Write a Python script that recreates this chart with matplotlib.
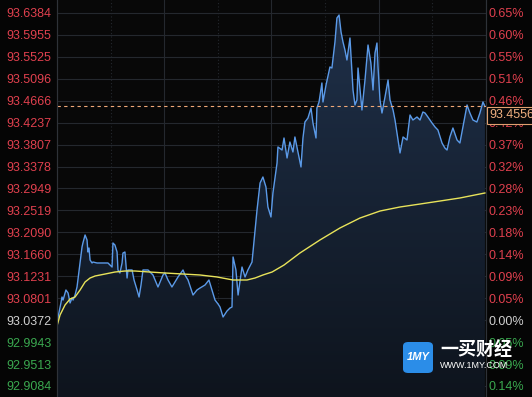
import numpy as np
import matplotlib
matplotlib.use('Agg')
import matplotlib.pyplot as plt
from matplotlib.colors import LinearSegmentedColormap
from matplotlib.patches import FancyBboxPatch

# minutes since open / price
t = [0.0, 0.6, 2.2, 2.8, 3.4, 5.0, 6.2, 7.3, 8.4, 9.0, 10.1, 11.2, 11.7, 12.9, 14.0, 14.5,
     15.7, 16.8, 17.3, 17.9, 18.5, 19.6, 20.1, 22.4, 24.1, 25.7, 28.5, 30.8, 31.3, 32.4,
     33.6, 34.1, 35.2, 36.4, 36.9, 38.0, 39.2, 39.7, 42.0, 43.1, 44.8, 45.9, 47.0, 48.1,
     50.9, 53.7, 56.5, 59.3, 60.4, 62.1, 64.3, 66.0, 67.7, 70.5, 71.6, 73.3, 76.1, 78.3,
     80.0, 82.8, 85.0, 86.7, 88.4, 90.1, 91.2, 92.9, 95.1, 96.8, 97.9, 98.5, 100.1, 101.3,
     103.5, 105.2, 106.8, 109.1, 110.8, 111.9, 113.6, 115.2, 116.9, 118.0, 119.7, 120.8,
     123.1, 123.6, 125.9, 127.0, 128.7, 130.3, 132.0, 133.1, 134.8, 136.5, 137.6, 138.7,
     140.4, 142.1, 143.2, 144.9, 145.4, 146.6, 148.2, 148.8, 150.5, 152.7, 153.8, 155.5,
     156.6, 157.8, 158.9, 160.0, 161.1, 162.2, 163.9, 165.6, 166.7, 167.8, 168.4, 170.6,
     172.3, 174.0, 175.6, 176.8, 177.9, 179.0, 179.6, 180.7, 181.8, 183.5, 185.2, 186.3,
     188.0, 189.1, 190.8, 191.9, 193.6, 195.8, 197.5, 199.1, 201.4, 203.1, 204.7, 205.9,
     207.5, 209.8, 211.5, 213.1, 215.4, 217.0, 218.2, 219.8, 221.5, 223.8, 225.4, 227.1,
     229.4, 231.0, 232.7, 234.9, 236.6, 238.3, 239.4]
price = [93.0258, 93.0434, 93.0708, 93.0825, 93.0766, 93.0962, 93.0903, 93.0708, 93.0806,
         93.0766, 93.0864, 93.1021, 93.1158, 93.1491, 93.1804, 93.1882, 93.2039, 93.1941,
         93.1706, 93.1784, 93.1549, 93.1491, 93.1510, 93.1491, 93.1491, 93.1491, 93.1491,
         93.1412, 93.1882, 93.1843, 93.1706, 93.1354, 93.1295, 93.1491, 93.1686, 93.1706,
         93.1197, 93.1354, 93.1354, 93.1158, 93.0962, 93.0825, 93.1060, 93.1354, 93.1354,
         93.1256, 93.1021, 93.1256, 93.1295, 93.1158, 93.1021, 93.1119, 93.1217, 93.1354,
         93.1256, 93.1158, 93.0864, 93.0962, 93.1001, 93.1060, 93.1158, 93.0962, 93.0766,
         93.0688, 93.0629, 93.0434, 93.0551, 93.0610, 93.0629, 93.1608, 93.1354, 93.0864,
         93.1412, 93.1217, 93.1354, 93.1510, 93.2136, 93.2528, 93.3056, 93.3174, 93.2978,
         93.2587, 93.2391, 93.2861, 93.3448, 93.3761, 93.3702, 93.3937, 93.3546, 93.3859,
         93.3663, 93.3957, 93.3663, 93.3370, 93.3937, 93.4250, 93.4329, 93.4524, 93.4231,
         93.3937, 93.4524, 93.4642, 93.5014, 93.4642, 93.4974, 93.5327, 93.5307, 93.5816,
         93.6286, 93.6344, 93.6012, 93.5816, 93.5659, 93.5464, 93.5894, 93.4877, 93.4583,
         93.4681, 93.5307, 93.4485, 93.5072, 93.5757, 93.5405, 93.4877, 93.5601, 93.5796,
         93.5327, 93.4681, 93.4426, 93.4740, 93.5072, 93.4681, 93.4485, 93.4289, 93.3898,
         93.3644, 93.3957, 93.3898, 93.4387, 93.4289, 93.4348, 93.4289, 93.4446, 93.4426,
         93.4348, 93.4231, 93.4152, 93.4094, 93.3839, 93.3741, 93.3702, 93.3957, 93.4133,
         93.3898, 93.3839, 93.4152, 93.4583, 93.4426, 93.4289, 93.4250, 93.4426, 93.4642,
         93.4556]

# average price line
t_avg = [0.0, 1.7, 4.5, 7.3, 10.1, 12.9, 15.7, 18.5, 21.3, 26.9, 32.4, 38.0, 43.6, 52.0,
         60.4, 70.5, 80.0, 89.5, 98.5, 106.3, 110.8, 115.2, 120.3, 127.0, 135.9, 147.1,
         158.3, 169.5, 180.7, 191.9, 203.1, 214.3, 225.4, 239.4]
avg = [93.0258, 93.0473, 93.0669, 93.0786, 93.0825, 93.0962, 93.1119, 93.1197, 93.1236,
       93.1275, 93.1314, 93.1334, 93.1334, 93.1314, 93.1295, 93.1275, 93.1256, 93.1217,
       93.1158, 93.1158, 93.1197, 93.1256, 93.1314, 93.1451, 93.1686, 93.1941, 93.2176,
       93.2371, 93.2508, 93.2587, 93.2645, 93.2704, 93.2763, 93.2861]

y_ticks = [93.6384, 93.5955, 93.5525, 93.5096, 93.4666, 93.4237, 93.3807, 93.3378,
           93.2949, 93.2519, 93.2090, 93.1660, 93.1231, 93.0801, 93.0372, 92.9943,
           92.9513, 92.9084]
base = 93.0372
last = 93.4556

RED = '#e0404e'
GREEN = '#3aa84f'
GREY = '#d0d0d0'

plt.rcParams['font.family'] = ['Liberation Sans', 'DejaVu Sans']

fig = plt.figure(figsize=(5.32, 3.97), dpi=100, facecolor='#050505')
ax = fig.add_axes([57 / 532, 0, 429 / 532, 1])
ax.set_facecolor('#080808')
ymin, ymax = 92.8868, 93.6638

# gradient fill under the price line
poly = ax.fill_between(t, price, ymin, color='none')
cmap = LinearSegmentedColormap.from_list('f', ['#0e141d', '#1f3049'])
grad = np.linspace(1, 0, 256).reshape(-1, 1)
im = ax.imshow(grad, extent=[0, 240, ymin, max(price)], aspect='auto', cmap=cmap,
               zorder=1)
im.set_clip_path(poly.get_paths()[0], transform=ax.transData)

for v in y_ticks:
    ax.axhline(v, color='#24282e', lw=0.8, zorder=0.5)
for m in [60, 120, 180]:
    ax.axvline(m, color='#24282e', lw=0.8, zorder=0.5)
for m in [30, 90, 150, 210]:
    ax.axvline(m, color='#24282e', lw=0.8, ls=(0, (1, 2)), zorder=0.5)

ax.plot(t, price, color='#5b9ae8', lw=1.0, zorder=3)
ax.plot(t_avg, avg, color='#e8e35a', lw=1.0, zorder=3)
ax.axhline(last, color='#f0a878', lw=0.8, ls=(0, (3, 3)), zorder=4)

ax.set_xlim(0, 240)
ax.set_ylim(ymin, ymax)
ax.set_xticks([])
ax.set_yticks(y_ticks)
ax.set_yticklabels([f'{v:.4f}' for v in y_ticks], fontsize=9)
ax.tick_params(axis='y', length=0, pad=4)
for lab, v in zip(ax.get_yticklabels(), y_ticks):
    lab.set_color(RED if v > base + 1e-6 else (GREY if abs(v - base) < 1e-6 else GREEN))

ax2 = ax.twinx()
ax2.set_ylim(ymin, ymax)
ax2.set_yticks(y_ticks)
ax2.set_yticklabels([f'{abs(v / base - 1) * 100:.2f}%' for v in y_ticks], fontsize=9)
ax2.tick_params(axis='y', length=0, pad=2)
for lab, v in zip(ax2.get_yticklabels(), y_ticks):
    lab.set_color(RED if v > base + 1e-6 else (GREY if abs(v - base) < 1e-6 else GREEN))

for a in (ax, ax2):
    for s in ['top', 'bottom']:
        a.spines[s].set_visible(False)
    a.spines['left'].set_color('#2e3238')
    a.spines['right'].set_color('#2e3238')

# last price tag
fig.text(489 / 532, 1 - 115 / 397, f'{last:.4f}', color='#f0b080', fontsize=9,
         ha='left', va='center',
         bbox=dict(boxstyle='square,pad=0.2', fc='#080808', ec='#e0a070', lw=0.8))

# watermark
fig.patches.append(FancyBboxPatch((403 / 532, 1 - 373 / 397), 30 / 532, 31 / 397,
                                  boxstyle='round,pad=0,rounding_size=0.01',
                                  transform=fig.transFigure, fc='#2b8de8', ec='none'))
fig.text(418 / 532, 1 - 357 / 397, '1MY', color='white', fontsize=8, style='italic',
         weight='bold', ha='center', va='center')
fig.text(440 / 532, 1 - 350 / 397, '一买财经', color='white', fontsize=13,
         family=['Noto Sans CJK SC', 'DejaVu Sans'], ha='left', va='center', weight='bold')
fig.text(440 / 532, 1 - 366 / 397, 'WWW.1MY.COM', color='white', fontsize=6.5,
         ha='left', va='center')

fig.savefig('out.png', dpi=100, facecolor=fig.get_facecolor())
